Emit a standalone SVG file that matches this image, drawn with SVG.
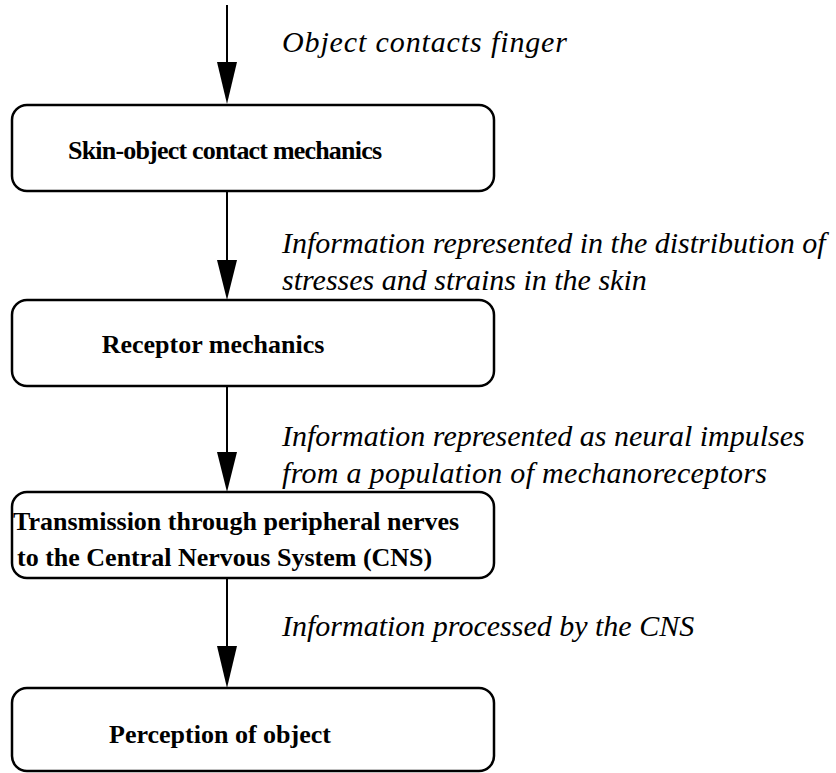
<svg xmlns="http://www.w3.org/2000/svg" width="836" height="773" viewBox="0 0 836 773">
<style>
.box{fill:#fff;stroke:#000;stroke-width:2.5}
.bt{font-family:"Liberation Serif","Times New Roman",serif;font-weight:bold;font-size:26px;fill:#000}
.lb{font-family:"Liberation Serif","Times New Roman",serif;font-style:italic;font-size:30px;fill:#000}
.ln{stroke:#000;stroke-width:2;fill:none}
.hd{fill:#000}
</style>
<rect width="836" height="773" fill="#fff"/>
<g id="connectors">
<line class="ln" x1="227" y1="5" x2="227" y2="64"/>
<path class="hd" d="M217,62 L237,62 L227,104 Z"/>
<line class="ln" x1="227" y1="192" x2="227" y2="262"/>
<path class="hd" d="M217,260 L237,260 L227,300 Z"/>
<line class="ln" x1="227" y1="387" x2="227" y2="454"/>
<path class="hd" d="M217,452 L237,452 L227,492 Z"/>
<line class="ln" x1="227" y1="579" x2="227" y2="648"/>
<path class="hd" d="M217,646 L237,646 L227,688 Z"/>
</g>
<g id="label1"><text class="lb" x="282" y="52" textLength="285">Object contacts finger</text></g>
<g id="node1">
<rect class="box" x="12" y="105" width="482" height="86" rx="15"/>
<text class="bt" x="68" y="159" textLength="314">Skin-object contact mechanics</text>
</g>
<g id="label2">
<text class="lb" x="282" y="253">Information represented in the distribution of</text>
<text class="lb" x="282" y="290">stresses and strains in the skin</text>
</g>
<g id="node2">
<rect class="box" x="12" y="300" width="482" height="86" rx="15"/>
<text class="bt" x="213" y="353" text-anchor="middle">Receptor mechanics</text>
</g>
<g id="label3">
<text class="lb" x="282" y="446">Information represented as neural impulses</text>
<text class="lb" x="282" y="483" textLength="485">from a population of mechanoreceptors</text>
</g>
<g id="node3">
<rect class="box" x="12" y="492" width="482" height="86" rx="15"/>
<text class="bt" x="13" y="530">Transmission through peripheral nerves</text>
<text class="bt" x="17" y="566">to the Central Nervous System (CNS)</text>
</g>
<g id="label4"><text class="lb" x="282" y="636">Information processed by the CNS</text></g>
<g id="node4">
<rect class="box" x="12" y="688" width="482" height="83" rx="15"/>
<text class="bt" x="220" y="743" text-anchor="middle">Perception of object</text>
</g>
</svg>
